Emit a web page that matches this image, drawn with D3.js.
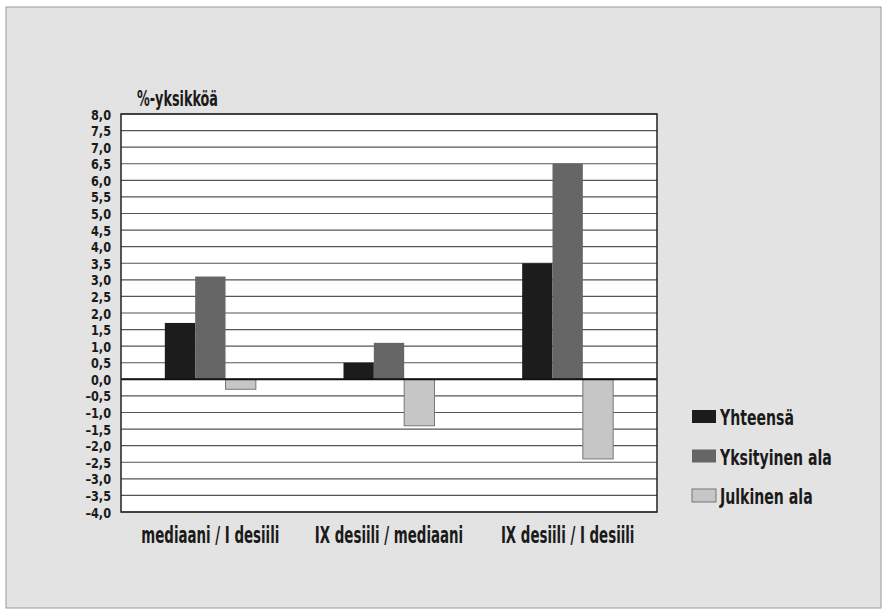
<!DOCTYPE html>
<html><head><meta charset="utf-8">
<script src="https://cdn.jsdelivr.net/npm/d3@7"></script>
<style>body{margin:0;background:#fff}svg{display:block}text{font-family:"DejaVu Sans",sans-serif;font-stretch:condensed;font-weight:bold;fill:#1a1a1a}</style>
</head><body><svg id="c" width="886" height="614"></svg>
<script>
const categories = ["mediaani / I desiili", "IX desiili / mediaani", "IX desiili / I desiili"];
const seriesNames = ["Yhteensä", "Yksityinen ala", "Julkinen ala"];
const yhteensa = [1.7, 0.5, 3.5];
const yksityinen = [3.1, 1.1, 6.5];
const julkinen = [-0.3, -1.4, -2.4];
const yTicks = [8,7.5,7,6.5,6,5.5,5,4.5,4,3.5,3,2.5,2,1.5,1,0.5,0,-0.5,-1,-1.5,-2,-2.5,-3,-3.5,-4];
const yTitle = "%-yksikköä";
const colors = ["#1c1c1c", "#666666", "#c6c6c6"];

const series = [yhteensa, yksityinen, julkinen];
const svg = d3.select("#c");
const FONT = '"DejaVu Sans",sans-serif';
// horizontally compress text (condensed look) around its anchor point
function squeeze(sel, f, tx, ty){
  sel.each(function(){
    this.setAttribute("transform", `translate(${tx||0},${ty||0}) scale(${f.toFixed(3)},1)`);
  });
}

svg.append("rect").attr("x",6).attr("y",7).attr("width",875).attr("height",601)
  .attr("fill","#e3e3e3").attr("stroke","#999").attr("stroke-width",1);

const L=121,R=657,T=114,B=512;
const x = d3.scaleBand().domain(categories).range([L,R]);
const xs = d3.scaleBand().domain(seriesNames).range([0, 91]);
const y = d3.scaleLinear().domain([-4,8]).range([B,T]);

svg.append("rect").attr("x",L).attr("y",T).attr("width",R-L).attr("height",B-T).attr("fill","#fff");
svg.append("g").selectAll("line").data(yTicks).join("line")
  .attr("x1",L).attr("x2",R).attr("y1",d=>y(d)).attr("y2",d=>y(d))
  .attr("stroke","#555").attr("stroke-width",1.2);

const fmt = v => (v<0?"–":"") + Math.abs(v).toFixed(1).replace(".",",");
const yAxis = d3.axisLeft(y).tickValues(yTicks).tickSize(0).tickFormat(fmt);
const ga = svg.append("g").attr("transform",`translate(${L-10},0)`).call(yAxis);
ga.select(".domain").remove();
const yt = ga.selectAll("text").attr("font-size",14).attr("font-family",FONT).attr("font-weight","bold").attr("fill","#1a1a1a").attr("dy","0.36em").attr("x",0);
let w80 = 0; yt.each(function(d){ if(d===8) w80 = this.getComputedTextLength(); });
squeeze(yt, 20/w80);

const groups = svg.append("g").selectAll("g").data(categories).join("g")
  .attr("transform",d=>`translate(${x(d)+x.bandwidth()/2-45.5},0)`);
series.forEach((vals,si)=>{
  groups.append("rect")
    .attr("x",xs(seriesNames[si])).attr("width",xs.bandwidth())
    .attr("y",(d,i)=>y(Math.max(0,vals[i])))
    .attr("height",(d,i)=>Math.abs(y(vals[i])-y(0)))
    .attr("fill",colors[si]).attr("stroke", si===2?"#777":"none").attr("stroke-width",1);
});

svg.append("line").attr("x1",L).attr("x2",R).attr("y1",y(0)).attr("y2",y(0)).attr("stroke","#111").attr("stroke-width",2);
svg.append("rect").attr("x",L).attr("y",T).attr("width",R-L).attr("height",B-T).attr("fill","none").attr("stroke","#222").attr("stroke-width",1.5);

const xAxis = d3.axisBottom(x).tickSize(0);
const gx = svg.append("g").attr("transform",`translate(0,${B})`).call(xAxis);
gx.select(".domain").remove();
const xt = gx.selectAll("text").attr("font-size",23).attr("font-family",FONT).attr("font-weight","bold").attr("fill","#1a1a1a").attr("dy","0").attr("y",31);
let wx = 0; xt.each(function(d,i){ if(i===0) wx = this.getComputedTextLength(); });
squeeze(xt, 138/wx);

const tt = svg.append("text").attr("x",0).attr("y",0).attr("font-size",22).text(yTitle);
squeeze(tt, 81/tt.node().getComputedTextLength(), 137, 106);

const lg = svg.append("g").selectAll("g").data(seriesNames).join("g")
  .attr("transform",(d,i)=>`translate(692,${410+i*39.5})`);
lg.append("rect").attr("width",24).attr("height",13).attr("fill",(d,i)=>colors[i]).attr("stroke",(d,i)=>i===2?"#777":"none");
const lt = lg.append("text").attr("x",0).attr("y",0).attr("font-size",21).text(d=>d);
squeeze(lt, 112/lt.filter((d,i)=>i===1).node().getComputedTextLength(), 28, 15);
</script></body></html>
